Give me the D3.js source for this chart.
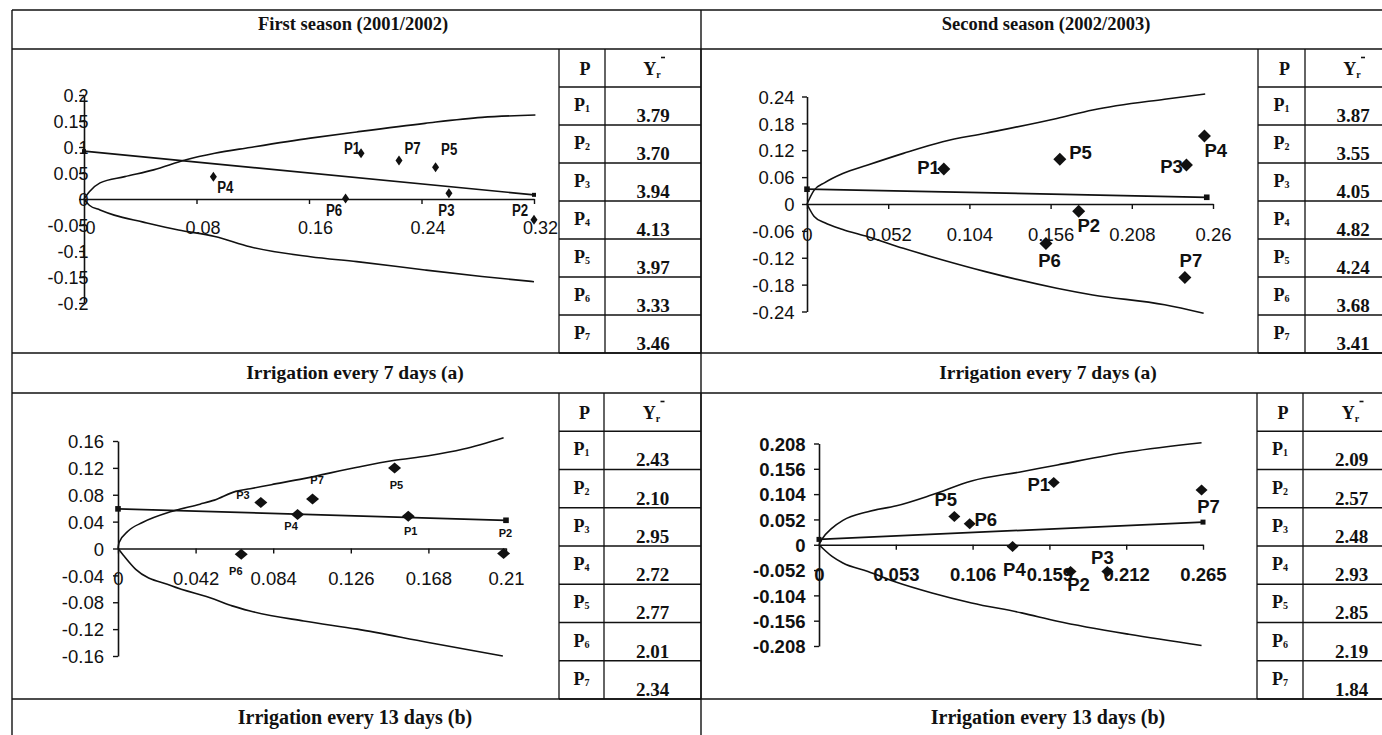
<!DOCTYPE html>
<html><head><meta charset="utf-8">
<script src="https://cdn.jsdelivr.net/npm/d3@7"></script>
<style>body{margin:0;background:#fff}svg{display:block}</style>
</head><body>
<svg id="c" width="1382" height="735"></svg>
<script>
// ---------------- DATA ----------------
const pointNames = ["P1","P2","P3","P4","P5","P6","P7"];

// Table values (mean yield) per panel, P1..P7
const tableTL = ["3.79","3.70","3.94","4.13","3.97","3.33","3.46"];
const tableTR = ["3.87","3.55","4.05","4.82","4.24","3.68","3.41"];
const tableBL = ["2.43","2.10","2.95","2.72","2.77","2.01","2.34"];
const tableBR = ["2.09","2.57","2.48","2.93","2.85","2.19","1.84"];

const titles = ["First season (2001/2002)", "Second season (2002/2003)"];
const captionsTop = ["Irrigation every 7 days (a)", "Irrigation every 7 days (a)"];
const captionsBottom = ["Irrigation every 13 days (b)", "Irrigation every 13 days (b)"];

// Top-left panel (first season, 7 days)
const tlPtX = [0.197, 0.320, 0.2595, 0.092, 0.250, 0.186, 0.224];
const tlPtY = [0.088, -0.040, 0.011, 0.043, 0.061, 0.001, 0.074];
const tlUpX = [0, 0.0038, 0.0114, 0.029, 0.0495, 0.072, 0.093, 0.118, 0.161, 0.194, 0.2425, 0.283, 0.321];
const tlUpY = [0, 0.014, 0.031, 0.043, 0.056, 0.075, 0.088, 0.099, 0.117, 0.129, 0.1455, 0.157, 0.1615];
const tlLoX = [0, 0.0038, 0.0114, 0.0215, 0.0415, 0.0672, 0.093, 0.118, 0.161, 0.194, 0.2425, 0.283, 0.320];
const tlLoY = [0, -0.012, -0.021, -0.031, -0.044, -0.0596, -0.072, -0.092, -0.111, -0.1205, -0.1365, -0.149, -0.159];
const tlRegX = [0, 0.32];
const tlRegY = [0.092, 0.008];
const tlXTicks = [0, 0.08, 0.16, 0.24, 0.32];
const tlXTickLabels = ["0", "0.08", "0.16", "0.24", "0.32"];
const tlYTicks = [-0.2, -0.15, -0.1, -0.05, 0, 0.05, 0.1, 0.15, 0.2];
const tlYTickLabels = ["-0.2", "-0.15", "-0.1", "-0.05", "0", "0.05", "0.1", "0.15", "0.2"];

// Top-right panel (second season, 7 days)
const trPtX = [0.0876, 0.174, 0.243, 0.2545, 0.1619, 0.153, 0.242];
const trPtY = [0.078, -0.016, 0.087, 0.152, 0.100, -0.088, -0.164];
const trUpX = [0, 0.0046, 0.0114, 0.0229, 0.0389, 0.0617, 0.0869, 0.1143, 0.160, 0.183, 0.229, 0.255];
const trUpY = [0, 0.031, 0.0476, 0.068, 0.087, 0.113, 0.139, 0.158, 0.191, 0.21, 0.234, 0.2455];
const trLoX = [0, 0.0046, 0.0114, 0.0229, 0.0389, 0.0617, 0.0869, 0.1143, 0.160, 0.183, 0.229, 0.254];
const trLoY = [0, -0.028, -0.042, -0.057, -0.073, -0.099, -0.125, -0.151, -0.188, -0.203, -0.225, -0.244];
const trRegX = [0, 0.256];
const trRegY = [0.033, 0.015];
const trXTicks = [0, 0.052, 0.104, 0.156, 0.208, 0.26];
const trXTickLabels = ["0", "0.052", "0.104", "0.156", "0.208", "0.26"];
const trYTicks = [-0.24, -0.18, -0.12, -0.06, 0, 0.06, 0.12, 0.18, 0.24];
const trYTickLabels = ["-0.24", "-0.18", "-0.12", "-0.06", "0", "0.06", "0.12", "0.18", "0.24"];

// Bottom-left panel (first season, 13 days)
const blPtX = [0.1571, 0.2087, 0.0773, 0.0972, 0.1497, 0.0667, 0.1053];
const blPtY = [0.048, -0.0075, 0.0686, 0.0505, 0.120, -0.0086, 0.0736];
const blUpX = [0, 0.0006, 0.0055, 0.0135, 0.0289, 0.0444, 0.0522, 0.0637, 0.0715, 0.083, 0.1005, 0.1295, 0.149, 0.168, 0.187, 0.2087];
const blUpY = [0, 0.009, 0.026, 0.039, 0.055, 0.066, 0.072, 0.085, 0.089, 0.095, 0.104, 0.121, 0.131, 0.138, 0.148, 0.165];
const blLoX = [0, 0.0029, 0.0096, 0.0289, 0.0522, 0.0618, 0.0715, 0.1005, 0.1295, 0.168, 0.2083];
const blLoY = [0, -0.010, -0.031, -0.0556, -0.0755, -0.0854, -0.093, -0.108, -0.120, -0.140, -0.160];
const blRegX = [0, 0.21];
const blRegY = [0.059, 0.042];
const blXTicks = [0, 0.042, 0.084, 0.126, 0.168, 0.21];
const blXTickLabels = ["0", "0.042", "0.084", "0.126", "0.168", "0.21"];
const blYTicks = [-0.16, -0.12, -0.08, -0.04, 0, 0.04, 0.08, 0.12, 0.16];
const blYTickLabels = ["-0.16", "-0.12", "-0.08", "-0.04", "0", "0.04", "0.08", "0.12", "0.16"];

// Bottom-right panel (second season, 13 days)
const brPtX = [0.162, 0.1736, 0.199, 0.1336, 0.0934, 0.104, 0.264];
const brPtY = [0.1277, -0.0547, -0.0547, -0.0035, 0.058, 0.043, 0.1127];
const brUpX = [0, 0.0017, 0.009, 0.0165, 0.0338, 0.0535, 0.078, 0.1053, 0.1398, 0.1645, 0.2138, 0.264];
const brUpY = [0, 0.010, 0.034, 0.050, 0.068, 0.080, 0.1025, 0.131, 0.150, 0.164, 0.191, 0.2097];
const brLoX = [0, 0.009, 0.0165, 0.0338, 0.0535, 0.078, 0.1053, 0.1398, 0.1645, 0.2138, 0.264];
const brLoY = [0, -0.024, -0.0375, -0.055, -0.077, -0.099, -0.1195, -0.140, -0.157, -0.184, -0.207];
const brRegX = [0, 0.265];
const brRegY = [0.011, 0.0465];
const brXTicks = [0, 0.053, 0.106, 0.159, 0.212, 0.265];
const brXTickLabels = ["0", "0.053", "0.106", "0.159", "0.212", "0.265"];
const brYTicks = [-0.208, -0.156, -0.104, -0.052, 0, 0.052, 0.104, 0.156, 0.208];
const brYTickLabels = ["-0.208", "-0.156", "-0.104", "-0.052", "0", "0.052", "0.104", "0.156", "0.208"];

// ---------------- LAYOUT / STYLE ----------------
const SANS = "'Liberation Sans', Arial, Helvetica, sans-serif";
const SERIF = "'Liberation Serif', 'Times New Roman', Times, serif";
const INK = "#111";

const panels = [
  { ptX: tlPtX, ptY: tlPtY, upX: tlUpX, upY: tlUpY, loX: tlLoX, loY: tlLoY, regX: tlRegX, regY: tlRegY,
    xt: tlXTicks, xtl: tlXTickLabels, yt: tlYTicks, ytl: tlYTickLabels,
    xd: [0, 0.32], yd: [-0.2, 0.2], xr: [84, 534], yr: [303, 95],
    tickFont: "normal", tickSize: 18, xLabDx: 6, xLabDy: 29, yLabX: 4.5,
    lblFont: 17, lblScaleX: 0.78, dHW: 3.5, dHH: 5, regMark: 2,
    lblOff: [[-9,-5],[-14,-10],[-2.5,16.7],[12,10],[13.6,-18],[-11.5,11.7],[13.6,-12.7]] },
  { ptX: trPtX, ptY: trPtY, upX: trUpX, upY: trUpY, loX: trLoX, loY: trLoY, regX: trRegX, regY: trRegY,
    xt: trXTicks, xtl: trXTickLabels, yt: trYTicks, ytl: trYTickLabels,
    xd: [0, 0.26], yd: [-0.24, 0.24], xr: [807, 1213], yr: [311.5, 96.5],
    tickFont: "normal", tickSize: 18.5, xLabDx: 0, xLabDy: 31, yLabX: -12.5,
    lblFont: 18.5, lblScaleX: 1, dHW: 6.5, dHH: 6.5, regMark: 2.8,
    lblOff: [[-15.3,-1.7],[10,14],[-15,1.7],[11.4,14.7],[20.7,-7.3],[3.6,16.7],[6,-17.3]] },
  { ptX: blPtX, ptY: blPtY, upX: blUpX, upY: blUpY, loX: blLoX, loY: blLoY, regX: blRegX, regY: blRegY,
    xt: blXTicks, xtl: blXTickLabels, yt: blYTicks, ytl: blYTickLabels,
    xd: [0, 0.21], yd: [-0.16, 0.16], xr: [118, 506], yr: [656, 441],
    tickFont: "normal", tickSize: 18.5, xLabDx: 0, xLabDy: 30, yLabX: -14,
    lblFont: 11, lblScaleX: 1, dHW: 6.5, dHH: 5.5, regMark: 2.8,
    lblOff: [[2.5,14.3],[1.8,-21],[-17.8,-7],[-6.5,11.7],[1.8,17.3],[-5.4,16.7],[4.5,-19.3]] },
  { ptX: brPtX, ptY: brPtY, upX: brUpX, upY: brUpY, loX: brLoX, loY: brLoY, regX: brRegX, regY: brRegY,
    xt: brXTicks, xtl: brXTickLabels, yt: brYTicks, ytl: brYTickLabels,
    xd: [0, 0.265], yd: [-0.208, 0.208], xr: [819, 1203], yr: [646, 443.5],
    tickFont: "bold", tickSize: 18.5, xLabDx: 0, xLabDy: 30, yLabX: -13.5,
    lblFont: 18.5, lblScaleX: 1, dHW: 6, dHH: 5.5, regMark: 2.5,
    lblOff: [[-15,1.3],[8,13.3],[-5,-13.7],[1.8,23.3],[-8.6,-16.7],[16,-4],[7,16]] }
];

const svg = d3.select("#c");

// ---------------- FRAME ----------------
const grid = svg.append("g").attr("stroke", INK).attr("stroke-width", 1.4).attr("fill", "none");
const XL = 12, XM = 701, XR = 1402;
[10, 49, 353, 393, 699].forEach(y => grid.append("line").attr("x1", XL).attr("x2", XR).attr("y1", y).attr("y2", y));
[XL, XM].forEach(x => grid.append("line").attr("x1", x).attr("x2", x).attr("y1", 10).attr("y2", 745));

// titles and captions
const serifText = (x, y, t, size) => svg.append("text").attr("x", x).attr("y", y)
  .attr("text-anchor", "middle").attr("font-family", SERIF).attr("font-weight", "bold")
  .attr("font-size", size).attr("fill", INK).text(t);
const halfCenters = [355, 1048];
titles.forEach((t, i) => serifText(halfCenters[i] - 2, 30, t, 18.5));
captionsTop.forEach((t, i) => serifText(halfCenters[i], 379, t, 19.5));
captionsBottom.forEach((t, i) => serifText(halfCenters[i], 724, t, 20));

// ---------------- TABLES ----------------
const tables = [
  { vals: tableTL, x0: 559, x1: 605, x2: 701, top: 49, bot: 353 },
  { vals: tableTR, x0: 1258, x1: 1305, x2: 1401, top: 49, bot: 353 },
  { vals: tableBL, x0: 559, x1: 604, x2: 701, top: 393, bot: 699 },
  { vals: tableBR, x0: 1257, x1: 1303, x2: 1400, top: 393, bot: 699 }
];
tables.forEach(tb => {
  const rows = d3.scaleBand().domain(["hdr"].concat(pointNames)).range([tb.top, tb.bot]);
  const g = svg.append("g");
  const gl = g.append("g").attr("stroke", INK).attr("stroke-width", 1.3);
  rows.domain().forEach(r => {
    gl.append("line").attr("x1", tb.x0).attr("x2", tb.x2).attr("y1", rows(r) + rows.bandwidth()).attr("y2", rows(r) + rows.bandwidth());
  });
  [tb.x0, tb.x1, tb.x2].forEach(x => gl.append("line").attr("x1", x).attr("x2", x).attr("y1", tb.top).attr("y2", tb.bot));
  const c1 = (tb.x0 + tb.x1) / 2, c2 = (tb.x1 + tb.x2) / 2;
  // header
  g.append("text").attr("x", c1 + 3).attr("y", rows("hdr") + 26).attr("text-anchor", "middle")
    .attr("font-family", SERIF).attr("font-weight", "bold").attr("font-size", 18).attr("fill", INK).text("P");
  const yh = g.append("text").attr("x", c2 - 1).attr("y", rows("hdr") + 26).attr("text-anchor", "middle")
    .attr("font-family", SERIF).attr("font-weight", "bold").attr("font-size", 18).attr("fill", INK);
  yh.append("tspan").text("Y");
  yh.append("tspan").attr("font-size", 10).attr("dy", 3).text("r");
  g.append("line").attr("x1", c2 + 8).attr("x2", c2 + 12).attr("y1", rows("hdr") + 8.5).attr("y2", rows("hdr") + 8.5)
    .attr("stroke", INK).attr("stroke-width", 1.6);
  pointNames.forEach((p, i) => {
    const t = g.append("text").attr("x", c1).attr("y", rows(p) + 24).attr("text-anchor", "middle")
      .attr("font-family", SERIF).attr("font-weight", "bold").attr("font-size", 18).attr("fill", INK);
    t.append("tspan").text("P");
    t.append("tspan").attr("font-size", 10).attr("dy", 1).text(p.slice(1));
    g.append("text").attr("x", c2).attr("y", rows(p) + 35).attr("text-anchor", "middle")
      .attr("font-family", SERIF).attr("font-weight", "bold").attr("font-size", 19).attr("fill", INK)
      .text(tb.vals[i]);
  });
});

// ---------------- CHARTS ----------------
panels.forEach(P => {
  const x = d3.scaleLinear().domain(P.xd).range(P.xr);
  const y = d3.scaleLinear().domain(P.yd).range(P.yr);
  const g = svg.append("g");

  // axes
  const xAxis = d3.axisBottom(x).tickValues(P.xt).tickFormat((d, i) => P.xtl[i]).tickSize(5).tickSizeOuter(0);
  const yAxis = d3.axisLeft(y).tickValues(P.yt).tickFormat((d, i) => P.ytl[i]).tickSize(5).tickSizeOuter(0);
  const gx = g.append("g").attr("transform", `translate(0,${y(0)})`).call(xAxis);
  const gy = g.append("g").attr("transform", `translate(${x(0)},0)`).call(yAxis);
  [gx, gy].forEach(a => {
    a.select(".domain").attr("stroke", INK).attr("stroke-width", 1.6);
    a.selectAll(".tick line").attr("stroke", INK).attr("stroke-width", 1.4);
    a.selectAll(".tick text").attr("fill", INK).attr("font-family", SANS)
      .attr("font-weight", P.tickFont).attr("font-size", P.tickSize);
  });
  gx.selectAll(".tick text").attr("x", P.xLabDx).attr("y", P.xLabDy).attr("dy", "0.35em");
  gy.selectAll(".tick text").attr("x", P.yLabX).attr("dy", "0.36em");

  // control limit curves
  const line = d3.line().x(d => x(d[0])).y(d => y(d[1])).curve(d3.curveMonotoneX);
  const up = P.upX.map((v, i) => [v, P.upY[i]]);
  const lo = P.loX.map((v, i) => [v, P.loY[i]]);
  const reg = P.regX.map((v, i) => [v, P.regY[i]]);
  [up, lo].forEach(s => g.append("path").datum(s).attr("d", line).attr("fill", "none")
    .attr("stroke", INK).attr("stroke-width", 1.6));
  g.append("path").datum(reg).attr("d", d3.line().x(d => x(d[0])).y(d => y(d[1])))
    .attr("fill", "none").attr("stroke", INK).attr("stroke-width", 1.7);
  g.selectAll(".rm").data(reg).enter().append("rect")
    .attr("x", d => x(d[0]) - P.regMark).attr("y", d => y(d[1]) - P.regMark)
    .attr("width", P.regMark * 2).attr("height", P.regMark * 2).attr("fill", INK);

  // points
  const pts = P.ptX.map((v, i) => ({ x: v, y: P.ptY[i], name: pointNames[i], off: P.lblOff[i] }));
  g.selectAll(".pt").data(pts).enter().append("path")
    .attr("transform", d => `translate(${x(d.x)},${y(d.y)})`)
    .attr("d", `M0,${-P.dHH}L${P.dHW},0L0,${P.dHH}L${-P.dHW},0Z`).attr("fill", INK);
  g.selectAll(".lb").data(pts).enter().append("text")
    .attr("transform", d => `translate(${x(d.x) + d.off[0]},${y(d.y) + d.off[1]}) scale(${P.lblScaleX},1)`)
    .attr("text-anchor", "middle").attr("dy", "0.36em")
    .attr("font-family", SANS).attr("font-weight", "bold").attr("font-size", P.lblFont).attr("fill", INK)
    .text(d => d.name);
});
</script>
</body></html>
